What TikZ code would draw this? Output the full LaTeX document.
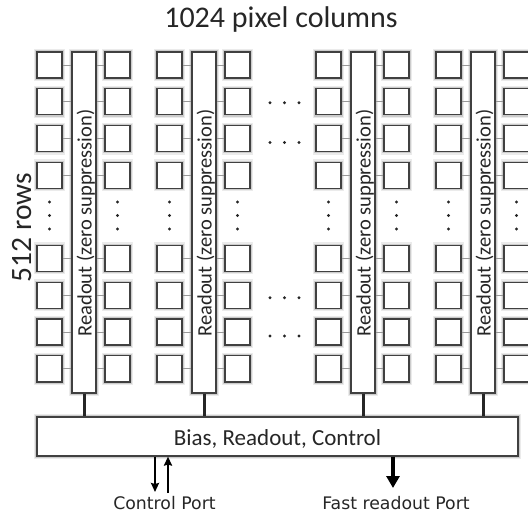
\documentclass[tikz,border=0pt]{standalone}
\usepackage{fontspec}
\setmainfont{Carlito}
\newfontfamily\portfont{DejaVu Sans}
\usetikzlibrary{arrows.meta}
\begin{document}
\begin{tikzpicture}[x=1pt,y=-1pt,
  glow/.style={preaction={draw=black!8,line width=6pt},preaction={draw=black!20,line width=3.5pt}},
  pix/.style={glow,draw=black!75,fill=white,line width=1.2pt,minimum width=25pt,minimum height=26pt,inner sep=0pt},
  rocol/.style={glow,draw=black!75,fill=white,line width=1.2pt,minimum width=24pt,minimum height=341pt,inner sep=0pt},
  rolabel/.style={rotate=90,anchor=base,font=\fontsize{20.5}{22}\selectfont,text=black!85,inner sep=0pt},
  barbox/.style={glow,draw=black!75,fill=white,line width=1.2pt,minimum width=481pt,minimum height=39pt,inner sep=0pt},
  conn/.style={draw=black!40,line width=0.9pt},
  bus/.style={draw=black!85,line width=3pt},
  ctrl/.style={draw=black,line width=2.2pt,-{Stealth[length=9pt,width=8pt,inset=1pt]}},
  fast/.style={draw=black,line width=4pt,-{Triangle[length=12pt,width=13pt]}},
  dotmark/.style={fill=black!85},
  lbl/.style={anchor=base,inner sep=0pt,text=black!85},
  portlbl/.style={anchor=base,inner sep=0pt,text=black!85,font=\portfont\fontsize{17.3}{19}\selectfont}]
\useasboundingbox (0,0) rectangle (528,513);
\clip (0,0) rectangle (528,513);

% title and side label
\node[lbl,font=\fontsize{30}{33}\selectfont] (title) at (281,28) {1024 pixel columns};
\node[lbl,rotate=90,font=\fontsize{29.5}{32}\selectfont] (rows) at (31,227.5) {512 rows};

% bottom bar
\node[barbox] (bar) at (277.5,436.5) {};
\node[lbl,font=\fontsize{23}{25}\selectfont] (bartext) at (277.5,445) {Bias, Readout, Control};

\foreach \g/\ox in {1/0,2/120,3/279,4/399}{
  \node[rocol] (RO-\g) at (84+\ox,222.5) {};
  \node[rolabel] (ROL-\g) at (91.5+\ox,223) {Readout (zero suppression)};
  \foreach \r/\yy in {1/65,2/101.8,3/138.6,4/175.4,5/258.5,6/295.3,7/332.1,8/368.9}{
    \node[pix] (L-\g-\r) at (49.5+\ox,\yy) {};
    \node[pix] (R-\g-\r) at (117.5+\ox,\yy) {};
    \draw[conn] (L-\g-\r.east) -- (L-\g-\r.east -| RO-\g.west);
    \draw[conn] (R-\g-\r.west) -- (R-\g-\r.west -| RO-\g.east);
  }
  \foreach \cx in {49.5,117.5}{
    \foreach \dy in {202,215.5,229}{
      \fill[dotmark] (\cx+\ox,\dy) circle (1.6pt);
    }
  }
  \draw[bus] (RO-\g.south) -- (RO-\g.south |- bar.north);
}

% horizontal ellipsis between groups 2 and 3
\foreach \dy in {102.7,142.5,297.7,336}{
  \foreach \dx in {270,284.5,299}{
    \fill[dotmark] (\dx,\dy) circle (1.6pt);
  }
}

% ports
\coordinate (cdown) at (155,492);
\coordinate (cup) at (168,493);
\coordinate (fdown) at (393,488);
\draw[ctrl] (bar.south -| cdown) -- (cdown);
\draw[ctrl] (cup) -- (bar.south -| cup);
\draw[fast] (bar.south -| fdown) -- (fdown);
\node[portlbl] (cport) at (164.5,509.5) {Control Port};
\node[portlbl] (fport) at (396,509.5) {Fast readout Port};
\end{tikzpicture}
\end{document}
